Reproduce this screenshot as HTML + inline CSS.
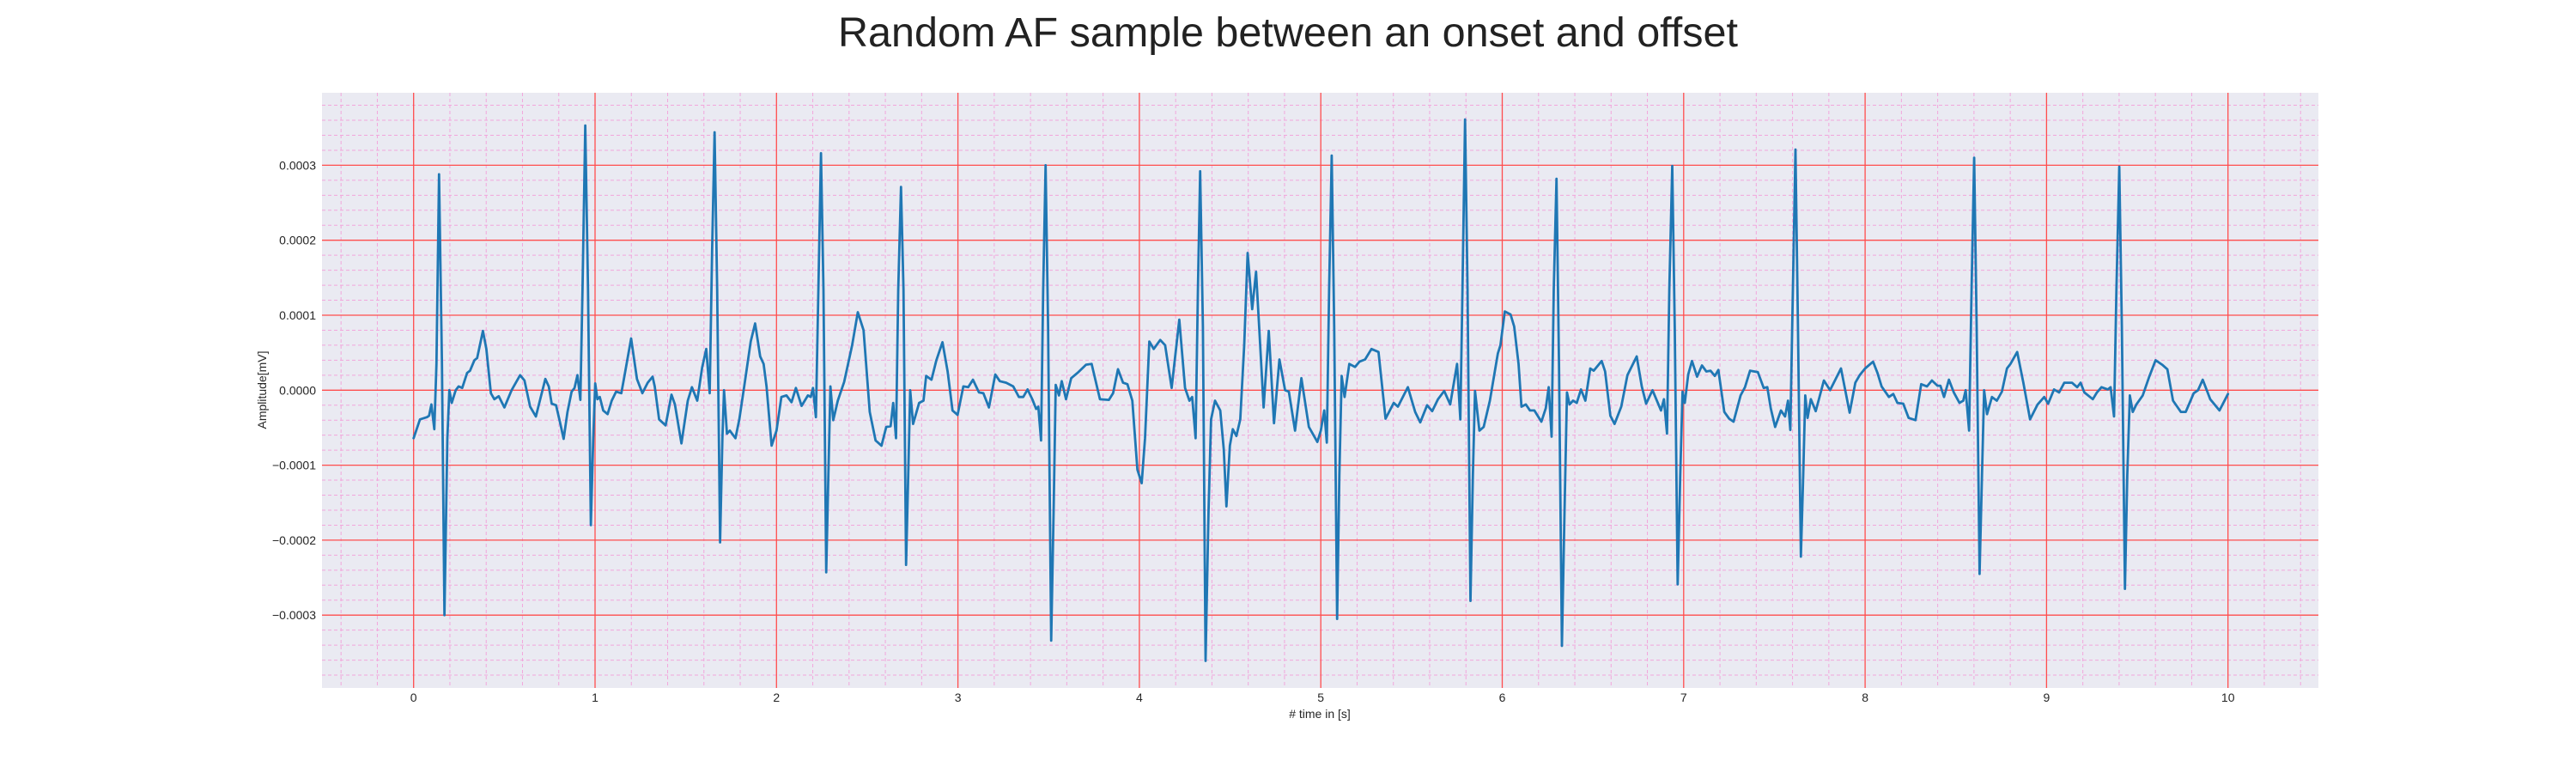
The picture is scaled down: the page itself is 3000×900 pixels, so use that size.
<!DOCTYPE html>
<html>
<head>
<meta charset="utf-8">
<style>
html,body{margin:0;padding:0;background:#fff;}
svg{display:block;font-family:"Liberation Sans",Arial,sans-serif;}
</style>
</head>
<body>
<svg id="chart" width="3000" height="900" viewBox="0 0 3000 900" xmlns="http://www.w3.org/2000/svg">
  <text x="1500" y="54" font-size="48.5" text-anchor="middle" fill="#222">Random AF sample between an onset and offset</text>
  <rect x="375" y="108" width="2325" height="693" fill="#EAEAF2"/>
  <g id="minor-grid"></g>
  <g id="major-grid"></g>
  <g id="series"></g>
  <g id="x-ticks"></g>
  <g id="y-ticks"></g>
  <text x="1537" y="836" font-size="14" text-anchor="middle" fill="#262626"># time in [s]</text>
  <text x="0" y="0" font-size="14" text-anchor="middle" fill="#262626" transform="translate(310,454) rotate(-90)">Amplitude[mV]</text>
</svg>
<script>
const xTickValues = [0,1,2,3,4,5,6,7,8,9,10];
const yTickValues = [-0.0003,-0.0002,-0.0001,0,0.0001,0.0002,0.0003];
const yTickLabels = ["\u22120.0003","\u22120.0002","\u22120.0001","0.0000","0.0001","0.0002","0.0003"];
const timeS = [0,0.035,0.074,0.085,0.098,0.114,0.126,0.140,0.156,0.170,0.186,0.197,0.210,0.232,0.248,0.268,0.295,0.311,0.335,0.350,0.382,0.401,0.426,0.445,0.469,0.500,0.540,0.587,0.611,0.642,0.674,0.701,0.726,0.745,0.761,0.785,0.808,0.827,0.848,0.871,0.887,0.903,0.919,0.931,0.946,0.961,0.977,0.990,1.001,1.013,1.026,1.045,1.069,1.092,1.116,1.145,1.159,1.199,1.231,1.261,1.290,1.317,1.329,1.353,1.389,1.421,1.440,1.476,1.511,1.534,1.563,1.590,1.613,1.632,1.645,1.659,1.673,1.689,1.702,1.711,1.727,1.743,1.774,1.795,1.822,1.858,1.882,1.910,1.929,1.945,1.973,
2.0,2.027,2.055,2.083,2.107,2.138,2.173,2.189,2.201,2.217,2.231,2.245,2.259,2.274,2.286,2.297,2.313,2.338,2.373,2.417,2.448,2.480,2.514,2.546,2.579,2.605,2.629,2.643,2.659,2.671,2.686,2.700,2.714,2.726,2.737,2.753,2.786,2.810,2.825,2.854,2.881,2.915,2.943,2.970,2.998,3.030,3.057,3.083,3.116,3.140,3.171,3.206,3.231,3.266,3.305,3.336,3.360,3.384,3.410,3.431,3.443,3.458,3.470,3.483,3.497,3.514,3.527,3.539,3.557,3.572,3.596,3.624,3.659,3.706,3.737,3.783,3.832,3.855,3.882,3.910,3.934,3.961,3.989,
4.013,4.031,4.055,4.079,4.115,4.142,4.178,4.220,4.252,4.276,4.291,4.310,4.323,4.335,4.350,4.365,4.381,4.395,4.417,4.446,4.465,4.480,4.499,4.515,4.535,4.556,4.578,4.597,4.622,4.643,4.666,4.685,4.713,4.742,4.772,4.803,4.824,4.858,4.893,4.934,4.981,5.0,5.019,5.033,5.046,5.060,5.074,5.090,5.102,5.115,5.131,5.157,5.189,5.213,5.244,5.279,5.318,5.357,5.402,5.425,5.480,5.520,5.548,5.586,5.614,5.646,5.680,5.713,5.751,5.769,5.781,5.795,5.809,5.825,5.838,5.850,5.874,5.898,5.932,5.976,5.990,
6.014,6.046,6.066,6.090,6.106,6.130,6.153,6.177,6.216,6.240,6.256,6.272,6.284,6.299,6.313,6.329,6.343,6.357,6.371,6.390,6.411,6.434,6.458,6.485,6.504,6.548,6.567,6.596,6.619,6.656,6.690,6.741,6.769,6.793,6.828,6.875,6.891,6.908,6.921,6.937,6.951,6.967,6.981,6.994,7.006,7.025,7.046,7.074,7.101,7.125,7.148,7.172,7.191,7.224,7.251,7.275,7.314,7.338,7.366,7.409,7.441,7.461,7.480,7.504,7.536,7.559,7.575,7.588,7.602,7.616,7.630,7.646,7.659,7.670,7.683,7.701,7.728,7.773,7.807,7.867,7.915,7.946,7.970,
8.0,8.044,8.068,8.091,8.131,8.155,8.178,8.210,8.240,8.278,8.309,8.341,8.368,8.399,8.415,8.435,8.462,8.489,8.520,8.541,8.554,8.573,8.587,8.601,8.615,8.631,8.644,8.656,8.672,8.699,8.726,8.754,8.782,8.801,8.838,8.872,8.909,8.951,8.987,9.009,9.041,9.069,9.098,9.140,9.169,9.188,9.208,9.255,9.278,9.303,9.338,9.353,9.372,9.385,9.401,9.415,9.432,9.445,9.459,9.475,9.495,9.530,9.566,9.601,9.637,9.666,9.697,9.740,9.767,9.811,9.835,9.861,9.902,9.953,10.0];
const amplitudeE4 = [-0.64,-0.39,-0.36,-0.34,-0.19,-0.52,0.35,2.88,0.35,-3.0,-0.64,0,-0.17,0,0.05,0.03,0.23,0.26,0.40,0.43,0.79,0.55,-0.04,-0.12,-0.08,-0.23,0,0.20,0.13,-0.22,-0.35,-0.09,0.15,0.05,-0.18,-0.20,-0.44,-0.65,-0.29,-0.02,0.03,0.20,-0.13,1.35,3.53,1.35,-1.80,-0.64,0.09,-0.12,-0.09,-0.27,-0.32,-0.14,-0.02,-0.04,0.15,0.69,0.15,-0.04,0.10,0.18,0.05,-0.39,-0.47,-0.06,-0.19,-0.71,-0.14,0.04,-0.14,0.30,0.55,-0.04,1.85,3.44,1.35,-2.03,-0.64,0,-0.58,-0.54,-0.64,-0.39,0.05,0.65,0.89,0.45,0.35,0.05,-0.74,
-0.54,-0.09,-0.07,-0.16,0.03,-0.21,-0.07,-0.09,0.03,-0.36,1.35,3.16,1.35,-2.43,-1.14,0.05,-0.40,-0.14,0.11,0.60,1.04,0.80,-0.29,-0.67,-0.74,-0.49,-0.48,-0.17,-0.64,1.35,2.71,1.35,-2.33,-1.14,0,-0.45,-0.17,-0.14,0.19,0.14,0.40,0.64,0.25,-0.27,-0.33,0.05,0.04,0.14,-0.03,-0.04,-0.23,0.21,0.12,0.10,0.05,-0.09,-0.09,0.01,-0.12,-0.25,-0.22,-0.67,1.35,3.0,0.85,-3.34,-1.64,0.07,-0.07,0.12,-0.12,0.16,0.23,0.34,0.35,-0.12,-0.13,-0.04,0.28,0.10,0.08,-0.14,-1.06,
-1.24,-0.64,0.65,0.55,0.67,0.60,0.03,0.94,0.03,-0.14,-0.09,-0.64,1.35,2.92,0.85,-3.61,-1.64,-0.39,-0.14,-0.27,-0.79,-1.55,-0.74,-0.52,-0.61,-0.39,0.60,1.83,1.08,1.58,0.60,-0.23,0.79,-0.44,0.41,0,-0.02,-0.54,0.16,-0.49,-0.69,-0.54,-0.27,-0.70,1.35,3.13,0.85,-3.05,-1.14,0.19,-0.09,0.35,0.31,0.38,0.41,0.55,0.51,-0.38,-0.17,-0.22,0.04,-0.29,-0.43,-0.20,-0.28,-0.12,-0.01,-0.19,0.35,-0.39,1.35,3.61,1.35,-2.81,-1.14,-0.01,-0.54,-0.49,-0.14,0.49,0.60,
1.05,1.01,0.85,0.35,-0.22,-0.19,-0.27,-0.27,-0.42,-0.24,0.04,-0.62,1.35,2.82,0.35,-3.41,-1.64,-0.03,-0.19,-0.14,-0.17,0.01,-0.14,0.29,0.26,0.39,0.25,-0.34,-0.45,-0.22,0.20,0.45,0.05,-0.18,0,-0.27,-0.12,-0.58,1.35,2.99,0.85,-2.59,-1.14,-0.02,-0.17,0.21,0.39,0.18,0.33,0.25,0.26,0.19,0.27,-0.29,-0.38,-0.42,-0.07,0.04,0.26,0.24,0.03,0.04,-0.24,-0.49,-0.27,-0.35,-0.14,-0.53,1.35,3.21,0.85,-2.22,-1.14,-0.07,-0.37,-0.12,-0.28,0.13,0,0.29,-0.30,0.10,0.20,
0.29,0.38,0.23,0.05,-0.09,-0.05,-0.17,-0.18,-0.37,-0.40,0.08,0.05,0.13,0.06,0.06,-0.09,0.14,-0.03,-0.17,-0.14,0,-0.54,1.35,3.10,0.85,-2.45,-1.14,0,-0.32,-0.09,-0.14,-0.02,0.29,0.35,0.51,0.10,-0.39,-0.19,-0.09,-0.18,0.01,-0.03,0.10,0.10,0.04,0.10,-0.03,-0.12,-0.03,0.04,0.01,0.04,-0.35,1.35,2.98,0.85,-2.65,-1.14,-0.07,-0.29,-0.19,-0.07,0.18,0.40,0.34,0.28,-0.14,-0.29,-0.29,-0.04,0,0.14,-0.12,-0.27,-0.05];

const X0 = 481.7, PXS = 211.3, Y0 = 454.3, PXV = 873000;
const PL = 375, PR = 2700, PT = 108, PB = 801;
function xScale(t){ return X0 + t*PXS; }
function yScale(v){ return Y0 - v*PXV; }
const NS = "http://www.w3.org/2000/svg";
function mk(tag, parent){ const e = document.createElementNS(NS, tag); parent.appendChild(e); return e; }

const minor = document.getElementById('minor-grid');
for (let i = -2; i <= 52; i++) {
  if (i % 5 === 0) continue;
  const x = xScale(i*0.2);
  if (x < PL || x > PR) continue;
  const l = mk('line', minor);
  
  
  l.setAttribute('x1', x); l.setAttribute('x2', x); l.setAttribute('y1', PT); l.setAttribute('y2', PB);
  l.setAttribute('stroke', '#f2a6dc'); l.setAttribute('stroke-width', '1'); l.setAttribute('stroke-dasharray', '4,3');
}
for (let i = -19; i <= 19; i++) {
  if (i % 5 === 0) continue;
  const y = yScale(i*0.00002);
  if (y < PT || y > PB) continue;
  const l = mk('line', minor);
  
  
  l.setAttribute('x1', PL); l.setAttribute('x2', PR); l.setAttribute('y1', y); l.setAttribute('y2', y);
  l.setAttribute('stroke', '#f2a6dc'); l.setAttribute('stroke-width', '1'); l.setAttribute('stroke-dasharray', '4,3');
}
const major = document.getElementById('major-grid');
const xt = document.getElementById('x-ticks');
xTickValues.forEach(function(t){
  const x = xScale(t);
  const l = mk('line', major);
  
  
  l.setAttribute('x1', x); l.setAttribute('x2', x); l.setAttribute('y1', PT); l.setAttribute('y2', PB);
  l.setAttribute('stroke', '#ff4d4d'); l.setAttribute('stroke-width', '1.3');
  const tx = mk('text', xt);
  
  
  tx.setAttribute('x', x); tx.setAttribute('y', 817); tx.setAttribute('font-size', '14');
  tx.setAttribute('text-anchor', 'middle'); tx.setAttribute('fill', '#262626');
  tx.textContent = String(t);
});
const yt = document.getElementById('y-ticks');
yTickValues.forEach(function(v, i){
  const y = yScale(v);
  const l = mk('line', major);
  
  
  l.setAttribute('x1', PL); l.setAttribute('x2', PR); l.setAttribute('y1', y); l.setAttribute('y2', y);
  l.setAttribute('stroke', '#ff4d4d'); l.setAttribute('stroke-width', '1.3');
  const tx = mk('text', yt);
  
  
  tx.setAttribute('x', 368); tx.setAttribute('y', y + 5); tx.setAttribute('font-size', '14');
  tx.setAttribute('text-anchor', 'end'); tx.setAttribute('fill', '#262626');
  tx.textContent = yTickLabels[i];
});
const series = document.getElementById('series');
const pts = timeS.map(function(t, i){ return xScale(t).toFixed(1) + ',' + yScale(amplitudeE4[i]*1e-4).toFixed(1); }).join(' ');
const pl = mk('polyline', series);


pl.setAttribute('points', pts);
pl.setAttribute('fill', 'none'); pl.setAttribute('stroke', '#1f77b4');
pl.setAttribute('stroke-width', '2.8'); pl.setAttribute('stroke-linejoin', 'round'); pl.setAttribute('stroke-linecap', 'round');
</script>
</body>
</html>
